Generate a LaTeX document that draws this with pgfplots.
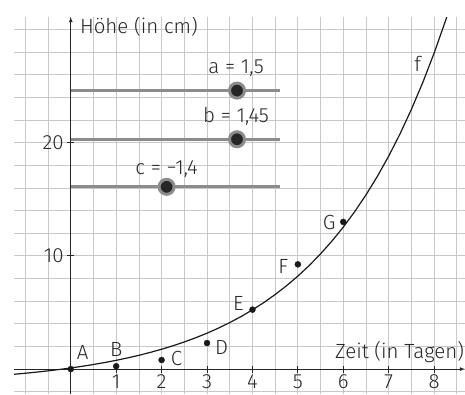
\documentclass[border=0pt]{standalone}
\usepackage{pgfplots}
\pgfplotsset{compat=1.18}
\usepackage{fontspec}
\setmainfont{Fira Sans Light}
\definecolor{gridgray}{RGB}{200,200,200}
\definecolor{slidergray}{RGB}{140,140,140}
\definecolor{txt}{RGB}{40,40,40}
\newcommand{\lblfont}{\fontsize{20.5}{24}\selectfont}
\begin{document}
\begin{tikzpicture}
\begin{axis}[
  at={(0,0)}, anchor=south west,
  scale only axis, width=451pt, height=377pt,
  xmin=-1.25, xmax=8.68, ymin=-2.2, ymax=31.1,
  axis lines=middle,
  axis line style={black!85, line width=0.8pt, -latex},
  xtick={1,...,8}, ytick={10,20},
  minor xtick={-1,-0.5,...,8.5},
  minor ytick={-2,0,...,30},
  grid=both,
  grid style={gridgray, line width=0.8pt},
  minor grid style={gridgray, line width=0.8pt},
  major tick length=7pt, minor tick length=0pt,
  tick style={black!85, line width=0.8pt},
  tick align=center,
  /pgf/number format/assume math mode=true,
  ticklabel style={font=\lblfont, text=txt},
  xticklabel style={yshift=1pt},
  xlabel={}, ylabel={},
]
% Slider tracks for the parameters a, b, c
\addplot[slidergray, line width=3pt] coordinates {(0,24.6) (4.6,24.6)};
\addplot[slidergray, line width=3pt] coordinates {(0,20.3) (4.6,20.3)};
\addplot[slidergray, line width=3pt] coordinates {(0,16.1) (4.6,16.1)};
% Slider knobs
\addplot[only marks, mark=*, mark size=7.5pt,
  mark options={fill=black!85, draw=slidergray, line width=3pt}]
  coordinates {(3.66,24.6) (3.66,20.3) (2.11,16.1)};
% Graph of f
\addplot[black!90, line width=1.2pt] coordinates {
(-1.25,-0.457) (-1.0,-0.366) (-0.75,-0.265) (-0.5,-0.154) (-0.25,-0.033)
(0,0.100) (0.25,0.246) (0.5,0.406) (0.75,0.582) (1,0.775)
(1.25,0.987) (1.5,1.219) (1.75,1.474) (2,1.754) (2.25,2.061)
(2.5,2.398) (2.75,2.767) (3,3.173) (3.25,3.618) (3.5,4.107)
(3.75,4.643) (4,5.231) (4.25,5.876) (4.5,6.585) (4.75,7.362)
(5,8.215) (5.25,9.150) (5.5,10.178) (5.75,11.305) (6,12.541)
(6.25,13.898) (6.5,15.388) (6.75,17.022) (7,18.815) (7.25,20.782)
(7.5,22.943) (7.75,25.312) (8,27.911) (8.25,30.763) (8.3,31.37)
};
% Measured heights
\addplot[only marks, mark=*, mark size=3pt, black!90] coordinates {
(0,0) (1,0.25) (2,0.8) (3,2.3) (4,5.25) (5,9.25) (6,13.0)
};
% Labels
\begin{scope}[every node/.style={font=\lblfont, text=txt, inner sep=0pt}]
\node[anchor=west] at (axis cs:0.2,30.3) {Höhe (in cm)};
\node[anchor=east] at (axis cs:8.66,1.5) {Zeit (in Tagen)};
\node at (axis cs:3.64,26.6) {a = 1,5};
\node at (axis cs:3.64,22.3) {b = 1,45};
\node at (axis cs:2.11,17.7) {c = −1,4};
\node at (axis cs:0.26,1.5) {A};
\node at (axis cs:1.0,1.75) {B};
\node at (axis cs:2.33,0.95) {C};
\node at (axis cs:3.32,1.95) {D};
\node at (axis cs:3.69,5.84) {E};
\node at (axis cs:4.68,9.09) {F};
\node at (axis cs:5.69,12.95) {G};
\node at (axis cs:7.64,27.0) {f};
\end{scope}
\end{axis}
\pgfresetboundingbox
\useasboundingbox (-14pt,0) rectangle (451pt,394pt);
\end{tikzpicture}
\end{document}
